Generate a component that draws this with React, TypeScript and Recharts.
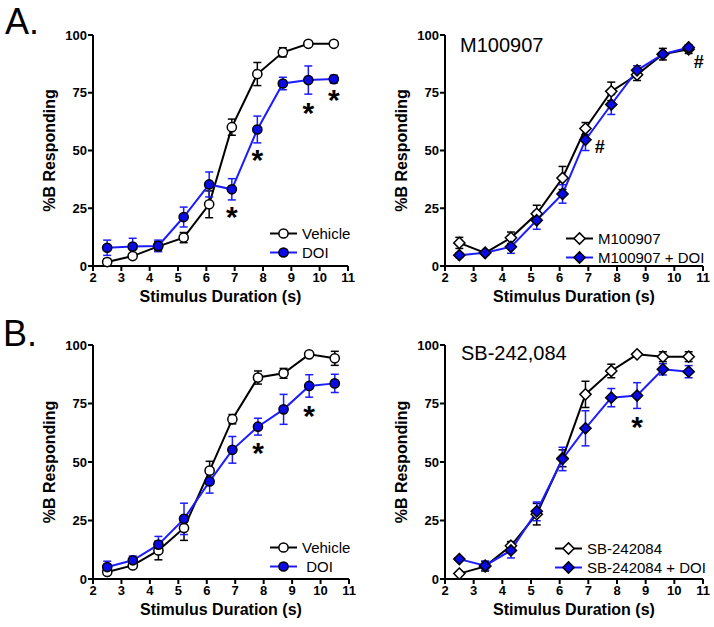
import { ComposedChart, Line, Scatter, XAxis, YAxis, ErrorBar, Legend } from "recharts";

// stimulus durations (s), same for every panel
const durations = [2.5, 3.4, 4.3, 5.2, 6.1, 6.9, 7.8, 8.7, 9.6, 10.5];
const xTicks = [2, 3, 4, 5, 6, 7, 8, 9, 10, 11];
const yTicks = [0, 25, 50, 75, 100];

// A. left: Vehicle vs DOI
const vehicleA = [1.7, 4.3, 8.5, 12.3, 26.7, 60.1, 83.1, 92.5, 96.2, 96.2];
const vehicleAErr = [1.5, 1, 2, 2.2, 5.8, 3.5, 5, 2, 0.5, 0.5];
const doiA = [7.9, 8.4, 8.7, 21.2, 35.3, 33.2, 59.1, 79, 80.5, 80.9];
const doiAErr = [3.3, 3.6, 2.5, 4.3, 5.4, 4.6, 5.8, 2.7, 6.1, 1.7];
const starsAx = [6.9, 7.8, 9.6, 10.5];
const starsAy = [24.4, 49, 69.2, 74.7];

// A. right: M100907 vs M100907 + DOI
const m100907 = [10.0, 5.7, 12.2, 22.6, 38.1, 59.5, 75.6, 82.8, 91.7, 93.8];
const m100907Err = [2.4, 0.8, 2.5, 3.7, 5, 2.6, 4, 2.5, 2.5, 1.8];
const m100907Doi = [4.7, 5.7, 8.3, 19.8, 31.2, 54.6, 69.9, 84.7, 91.7, 94.6];
const m100907DoiErr = [1, 0.8, 2.8, 3.9, 4, 4.6, 4.3, 2, 1, 1];
const hashX = [7.4, 10.85];
const hashY = [51.3, 88.5];

// B. left: Vehicle vs DOI
const vehicleB = [3.0, 5.8, 12.2, 21.8, 46.3, 68.3, 86.1, 87.9, 96.0, 94.3];
const vehicleBErr = [1, 1, 4, 5.3, 4, 2, 2.8, 2.1, 0.7, 3];
const doiB = [5.1, 8.0, 14.7, 25.7, 41.7, 55.2, 65.1, 72.5, 82.5, 83.6];
const doiBErr = [2.5, 1.8, 3.5, 6.7, 5, 5.7, 3.6, 6.4, 4.8, 3.9];
const starsBx = [7.8, 9.6];
const starsBy = [56.9, 72.7];

// B. right: SB-242084 vs SB-242084 + DOI
const sb242084 = [2.3, 5.4, 14.2, 27.7, 51.6, 78.9, 88.9, 96.0, 95.0, 95.0];
const sb242084Err = [0.5, 2, 1.8, 4.6, 3.6, 5.6, 2.9, 0.5, 2.1, 2.1];
const sb242084Doi = [8.5, 5.7, 12.2, 28.9, 51.3, 64.4, 77.5, 78.4, 89.6, 88.6];
const sb242084DoiErr = [0.5, 2, 3.2, 4, 5, 7.5, 3.9, 5.5, 2.4, 2.6];
const starsCx = [8.7];
const starsCy = [68];

const FONT = "'Liberation Sans', Arial, Helvetica, sans-serif";
const BLUE = "#1c1cff";
const DOT_BLUE = "#0a0ae6";

const makeRows = (a: number[], aErr: number[], b: number[], bErr: number[]) =>
  durations.map((x, i) => ({ x, a: a[i], aErr: aErr[i], b: b[i], bErr: bErr[i] }));

const makeMarks = (xs: number[], ys: number[], mark: string) =>
  xs.map((x, i) => ({ x, y: ys[i], mark }));

type Shape = "circle" | "diamond";

const Marker = ({ cx, cy, shape, fill }: { cx: number; cy: number; shape: Shape; fill: string }) => {
  if (shape === "circle") {
    return <circle cx={cx} cy={cy} r={4.6} fill={fill} stroke="#000" strokeWidth={1.5} />;
  }
  const s = 5.6;
  return (
    <polygon
      points={`${cx},${cy - s} ${cx + s},${cy} ${cx},${cy + s} ${cx - s},${cy}`}
      fill={fill}
      stroke="#000"
      strokeWidth={1.5}
    />
  );
};

const dotRenderer = (shape: Shape, fill: string) => (p: any) => (
  <g key={`dot-${p.index}`}>
    <Marker cx={p.cx} cy={p.cy} shape={shape} fill={fill} />
  </g>
);

type PanelProps = {
  left: number;
  top: number;
  height: number;
  bottom: number;
  axisWidth: number;
  right: number;
  rows: any[];
  marks: any[];
  shape: Shape;
  names: [string, string];
  legendLeft: number;
  legendTop: number;
};

const Panel = ({ left, top, height, bottom, axisWidth, right, rows, marks, shape, names, legendLeft, legendTop }: PanelProps) => {
  const legendContent = () => (
    <div style={{ fontFamily: FONT, fontSize: 15, color: "#000" }}>
      {names.map((n, i) => (
        <div key={n} style={{ display: "flex", alignItems: "center", height: 19 }}>
          <svg width={30} height={19}>
            <line x1={1} x2={28} y1={9.5} y2={9.5} stroke={i === 0 ? "#000" : BLUE} strokeWidth={2} />
            <Marker cx={14.5} cy={9.5} shape={shape} fill={i === 0 ? "#fff" : DOT_BLUE} />
          </svg>
          <span style={{ marginLeft: 3, whiteSpace: "pre" }}>{n}</span>
        </div>
      ))}
    </div>
  );

  return (
    <div style={{ position: "absolute", left, top, width: 357, height }}>
      <ComposedChart
        width={357}
        height={height}
        data={rows}
        margin={{ top: 35, right, bottom, left: 0 }}
        style={{ fontFamily: FONT }}
      >
        <XAxis
          dataKey="x"
          type="number"
          domain={[2, 11]}
          ticks={xTicks}
          interval={0}
          height={44}
          tickSize={5}
          tickMargin={2}
          axisLine={{ stroke: "#000", strokeWidth: 2 }}
          tickLine={{ stroke: "#000", strokeWidth: 2 }}
          tick={{ fontSize: 13, fontWeight: "bold", fill: "#000", fontFamily: FONT }}
          label={{
            content: (p: any) => (
              <text
                x={p.viewBox.x + p.viewBox.width / 2}
                y={p.viewBox.y + 36}
                textAnchor="middle"
                fontSize={16}
                fontWeight="bold"
                fontFamily={FONT}
                fill="#000"
              >
                Stimulus Duration (s)
              </text>
            ),
          }}
        />
        <YAxis
          type="number"
          domain={[0, 100]}
          ticks={yTicks}
          interval={0}
          width={axisWidth}
          tickSize={5}
          tickMargin={1}
          axisLine={{ stroke: "#000", strokeWidth: 2 }}
          tickLine={{ stroke: "#000", strokeWidth: 2 }}
          tick={{ fontSize: 13, fontWeight: "bold", fill: "#000", fontFamily: FONT }}
          label={{
            content: (p: any) => {
              const x = p.viewBox.x + axisWidth - 38;
              const y = p.viewBox.y + p.viewBox.height / 2;
              return (
                <text
                  x={x}
                  y={y}
                  transform={`rotate(-90, ${x}, ${y})`}
                  textAnchor="middle"
                  fontSize={16}
                  fontWeight="bold"
                  fontFamily={FONT}
                  fill="#000"
                >
                  %B Responding
                </text>
              );
            },
          }}
        />
        <Line
          dataKey="a"
          type="linear"
          stroke="#000"
          strokeWidth={2}
          dot={dotRenderer(shape, "#fff")}
          isAnimationActive={false}
        >
          <ErrorBar dataKey="aErr" direction="y" width={4} stroke="#000" strokeWidth={1.5} />
        </Line>
        <Line
          dataKey="b"
          type="linear"
          stroke={BLUE}
          strokeWidth={2}
          dot={dotRenderer(shape, DOT_BLUE)}
          isAnimationActive={false}
        >
          <ErrorBar dataKey="bErr" direction="y" width={4} stroke={BLUE} strokeWidth={1.5} />
        </Line>
        <Scatter
          data={marks}
          dataKey="y"
          legendType="none"
          isAnimationActive={false}
          shape={(p: any) => {
            const star = p.payload.mark === "*";
            return (
              <text
                x={p.cx}
                y={p.cy + (star ? 17 : 6)}
                textAnchor="middle"
                fontSize={star ? 30 : 18}
                fontWeight="bold"
                fontFamily={FONT}
                fill="#000"
              >
                {p.payload.mark}
              </text>
            );
          }}
        />
        <Legend
          layout="horizontal"
          align="center"
          verticalAlign="middle"
          content={legendContent}
          wrapperStyle={{ left: legendLeft, top: legendTop, width: "auto", height: "auto" }}
        />
      </ComposedChart>
    </div>
  );
};

const bigLetter = { position: "absolute" as const, fontFamily: FONT, fontSize: 36, lineHeight: "36px", color: "#000" };
const panelTitle = { position: "absolute" as const, fontFamily: FONT, fontSize: 20, lineHeight: "20px", color: "#000" };

export default function App() {
  return (
    <div style={{ position: "absolute", left: 0, top: 0, width: 714, height: 627, background: "#fff" }}>
      <Panel
        left={0}
        top={0}
        height={310}
        bottom={0}
        axisWidth={93}
        right={9}
        rows={makeRows(vehicleA, vehicleAErr, doiA, doiAErr)}
        marks={makeMarks(starsAx, starsAy, "*")}
        shape="circle"
        names={["Vehicle", "DOI"]}
        legendLeft={269}
        legendTop={224}
      />
      <Panel
        left={357}
        top={0}
        height={310}
        bottom={0}
        axisWidth={88}
        right={11}
        rows={makeRows(m100907, m100907Err, m100907Doi, m100907DoiErr)}
        marks={makeMarks(hashX, hashY, "#")}
        shape="diamond"
        names={["M100907", "M100907 + DOI"]}
        legendLeft={208}
        legendTop={229}
      />
      <Panel
        left={0}
        top={310}
        height={317}
        bottom={4}
        axisWidth={93}
        right={8}
        rows={makeRows(vehicleB, vehicleBErr, doiB, doiBErr)}
        marks={makeMarks(starsBx, starsBy, "*")}
        shape="circle"
        names={["Vehicle", " DOI"]}
        legendLeft={269}
        legendTop={228}
      />
      <Panel
        left={357}
        top={310}
        height={317}
        bottom={4}
        axisWidth={88}
        right={11}
        rows={makeRows(sb242084, sb242084Err, sb242084Doi, sb242084DoiErr)}
        marks={makeMarks(starsCx, starsCy, "*")}
        shape="diamond"
        names={["SB-242084", "SB-242084 + DOI"]}
        legendLeft={197}
        legendTop={229}
      />
      <div style={{ ...bigLetter, left: 5, top: 4 }}>A.</div>
      <div style={{ ...bigLetter, left: 3, top: 316 }}>B.</div>
      <div style={{ ...panelTitle, left: 460, top: 35 }}>M100907</div>
      <div style={{ ...panelTitle, left: 461, top: 343 }}>SB-242,084</div>
    </div>
  );
}
